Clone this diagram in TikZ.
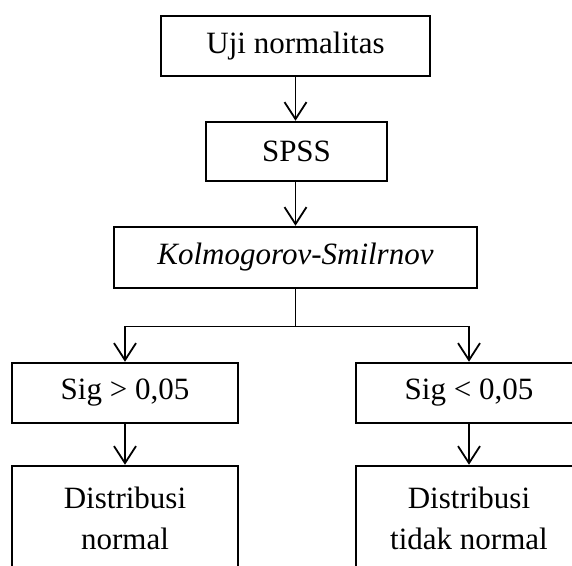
\documentclass[tikz,border=0pt]{standalone}
\usepackage{fontspec}
\setmainfont{Liberation Serif}
\usetikzlibrary{arrows.meta}
\begin{document}
\begin{tikzpicture}[x=1pt,y=-1pt,
  box/.style={draw,line width=2.5pt,inner sep=0pt,align=center,
    font=\fontsize{31}{41}\selectfont},
  link/.style={line width=1.8pt,-{Straight Barb[length=17pt,width=22pt]}},
  branch/.style={line width=1.4pt}]
  \useasboundingbox (0,0) rectangle (572,565);
  \clip (0,0) rectangle (572,565);

  % main chain
  \node[box,minimum width=269pt,minimum height=60pt] (uji) at (295.5,46) {Uji normalitas};
  \node[box,minimum width=181pt,minimum height=59pt] (spss) at (296.5,151.5) {SPSS};
  \node[box,minimum width=363pt,minimum height=61pt] (ks) at (295.5,257.5) {\itshape Kolmogorov-Smilrnov};

  % decision boxes
  \node[box,minimum width=226pt,minimum height=60pt] (gt) at (125,393) {Sig > 0,05};
  \node[box,minimum width=226pt,minimum height=60pt] (lt) at (469,393) {Sig < 0,05};

  % outcome boxes
  \node[box,minimum width=226pt,minimum height=104pt] (nrm) at (125,518) {Distribusi\\normal};
  \node[box,minimum width=226pt,minimum height=104pt] (tnrm) at (469,518) {Distribusi\\tidak normal};

  % connectors
  \draw[link] (uji.south) -- (uji.south |- spss.north);
  \draw[link] (ks.north |- spss.south) -- (ks.north);
  \draw[branch] (ks.south) -- ++(0,37) coordinate (split);
  \draw[branch] (split) -- (split -| gt.north);
  \draw[branch] (split) -- (split -| lt.north);
  \draw[link] (split -| gt.north) -- (gt.north);
  \draw[link] (split -| lt.north) -- (lt.north);
  \draw[link] (gt.south) -- (nrm.north);
  \draw[link] (lt.south) -- (tnrm.north);
\end{tikzpicture}
\end{document}
